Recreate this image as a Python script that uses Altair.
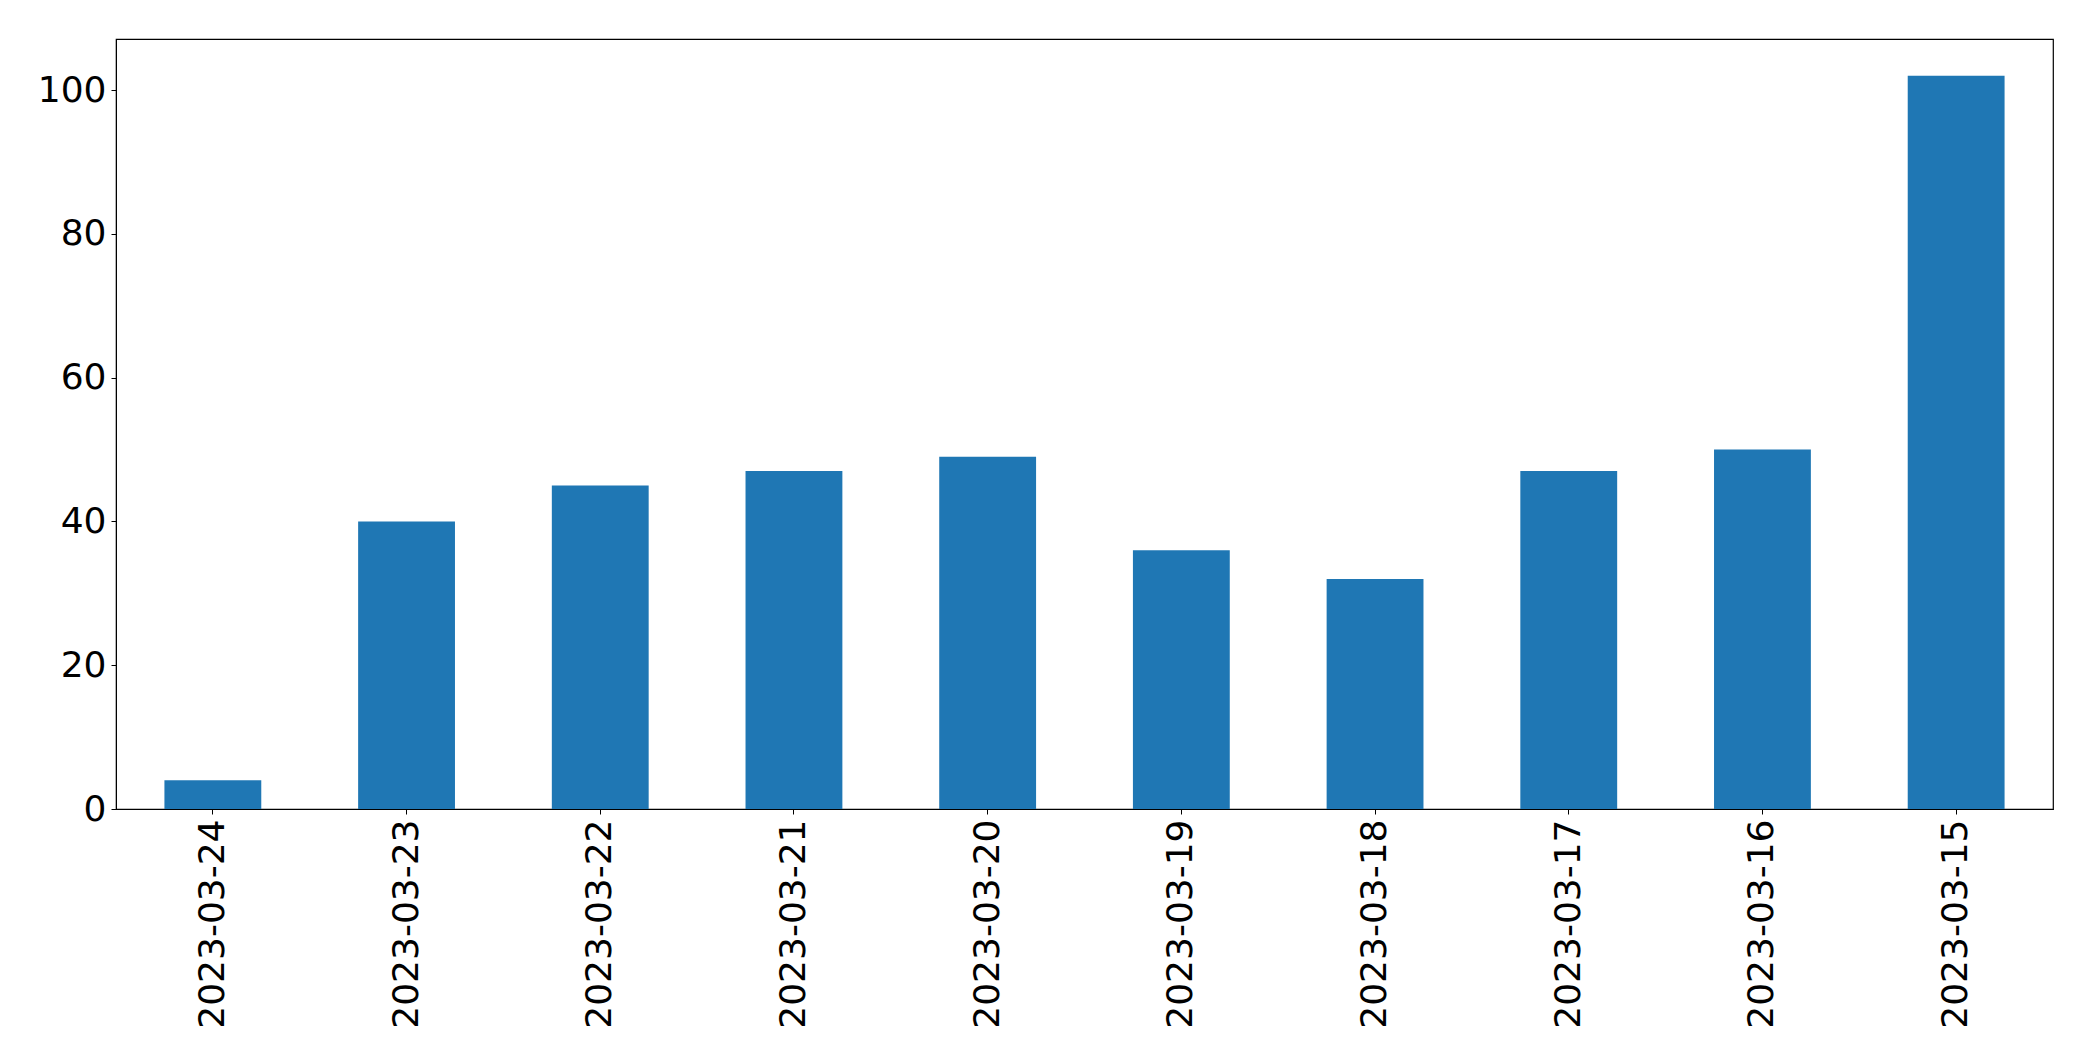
import altair as alt
import pandas as pd

dates = ["2023-03-24", "2023-03-23", "2023-03-22", "2023-03-21", "2023-03-20",
         "2023-03-19", "2023-03-18", "2023-03-17", "2023-03-16", "2023-03-15"]
counts = [4, 40, 45, 47, 49, 36, 32, 47, 50, 102]

df = pd.DataFrame({"date": dates, "count": counts})

chart = alt.Chart(df).mark_bar(color="#1f77b4").encode(
    x=alt.X("date:N", sort=None, title=None,
            scale=alt.Scale(paddingInner=0.5, paddingOuter=0.25),
            axis=alt.Axis(labelAngle=270, labelAlign="right", labelBaseline="middle",
                          labelFontSize=36, labelPadding=5, tickSize=5, labelLimit=0,
                          domainColor="black", tickColor="black", labelColor="black",
                          labelFont="DejaVu Sans", grid=False)),
    y=alt.Y("count:Q", title=None,
            scale=alt.Scale(domain=[0, 107.1], nice=False, zero=True),
            axis=alt.Axis(values=[0, 20, 40, 60, 80, 100], labelFontSize=36, labelPadding=5,
                          tickSize=5, domainColor="black", tickColor="black",
                          labelColor="black", labelFont="DejaVu Sans", grid=False)),
).properties(
    width=1937, height=770,
    autosize=alt.AutoSizeParams(type="none"),
    padding={"left": 108, "top": 31, "right": 20, "bottom": 230},
).configure_view(stroke="black", strokeWidth=1.2)

chart.save("out.html", embed_options={"renderer": "svg", "actions": False})
